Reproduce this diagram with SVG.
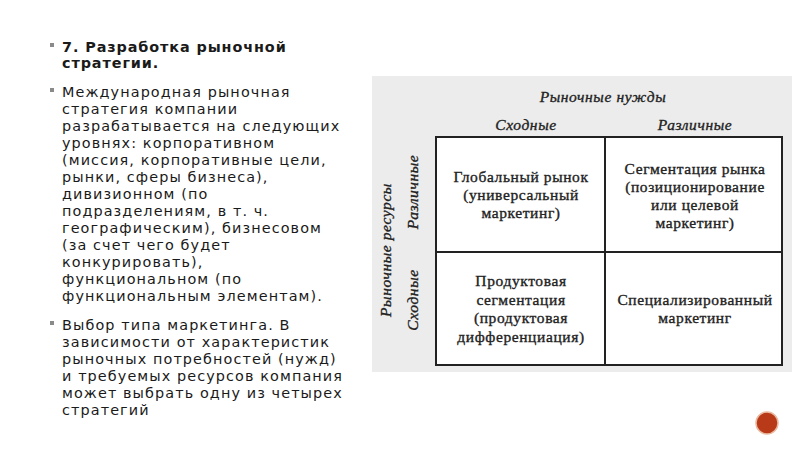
<svg xmlns="http://www.w3.org/2000/svg" width="800" height="449" viewBox="0 0 800 449">
<style>
.t{font-family:"DejaVu Sans",Verdana,sans-serif;font-size:14.4px;letter-spacing:1.1px;fill:#1a1a1a}
.b{font-weight:bold}
.s{font-family:"Liberation Serif","DejaVu Serif",serif;font-size:15.5px;letter-spacing:0.6px;fill:#222;stroke:#222;stroke-width:0.35;text-anchor:middle}
.i{font-style:italic}
.bl{fill:#8a8a8a}
</style>
<rect width="800" height="449" fill="#fff"/>
<g id="text">
<rect class="bl" x="50" y="43" width="4" height="4"/>
<text class="t b" x="62" y="52" style="letter-spacing:0.9px">7. Разработка рыночной</text>
<text class="t b" x="62" y="68" style="letter-spacing:0.9px">стратегии.</text>
<rect class="bl" x="50" y="88" width="4" height="4"/>
<text class="t" x="62" y="97">Международная рыночная</text>
<text class="t" x="62" y="114">стратегия компании</text>
<text class="t" x="62" y="131">разрабатывается на следующих</text>
<text class="t" x="62" y="148">уровнях: корпоративном</text>
<text class="t" x="62" y="165">(миссия, корпоративные цели,</text>
<text class="t" x="62" y="182">рынки, сферы бизнеса),</text>
<text class="t" x="62" y="199">дивизионном (по</text>
<text class="t" x="62" y="216">подразделениям, в т. ч.</text>
<text class="t" x="62" y="233">географическим), бизнесовом</text>
<text class="t" x="62" y="250">(за счет чего будет</text>
<text class="t" x="62" y="267">конкурировать),</text>
<text class="t" x="62" y="284">функциональном (по</text>
<text class="t" x="62" y="301">функциональным элементам).</text>
<rect class="bl" x="50" y="321" width="4" height="4"/>
<text class="t" x="62" y="330">Выбор типа маркетинга. В</text>
<text class="t" x="62" y="347">зависимости от характеристик</text>
<text class="t" x="62" y="364">рыночных потребностей (нужд)</text>
<text class="t" x="62" y="381">и требуемых ресурсов компания</text>
<text class="t" x="62" y="398">может выбрать одну из четырех</text>
<text class="t" x="62" y="415">стратегий</text>
</g>
<g id="matrix">
<rect x="372" y="76" width="420" height="296" fill="#ececec"/>
<rect x="436" y="137" width="346" height="228" fill="#fff" stroke="#222" stroke-width="2"/>
<line x1="605" y1="137" x2="605" y2="365" stroke="#222" stroke-width="2"/>
<line x1="436" y1="252" x2="782" y2="252" stroke="#222" stroke-width="2"/>
<text class="s i" x="603" y="102">Рыночные нужды</text>
<text class="s i" x="526" y="130">Сходные</text>
<text class="s i" x="695" y="130">Различные</text>
<text class="s i" transform="translate(391,250) rotate(-90)">Рыночные ресурсы</text>
<text class="s i" transform="translate(418,192) rotate(-90)">Различные</text>
<text class="s i" transform="translate(418,300) rotate(-90)">Сходные</text>
</g>
<g id="cell1"><text class="s" x="521" y="182">Глобальный рынок</text><text class="s" x="521" y="200">(универсальный</text><text class="s" x="521" y="218">маркетинг)</text></g>
<g id="cell2"><text class="s" x="695" y="174">Сегментация рынка</text><text class="s" x="695" y="192">(позиционирование</text><text class="s" x="695" y="210">или целевой</text><text class="s" x="695" y="228">маркетинг)</text></g>
<g id="cell3"><text class="s" x="521" y="286">Продуктовая</text><text class="s" x="521" y="305">сегментация</text><text class="s" x="521" y="323">(продуктовая</text><text class="s" x="521" y="342">дифференциация)</text></g>
<g id="cell4"><text class="s" x="695" y="305">Специализированный</text><text class="s" x="695" y="323">маркетинг</text></g>
<circle cx="767" cy="423" r="11" fill="#b83a18" stroke="#e9b9a0" stroke-width="1.5"/>
</svg>
